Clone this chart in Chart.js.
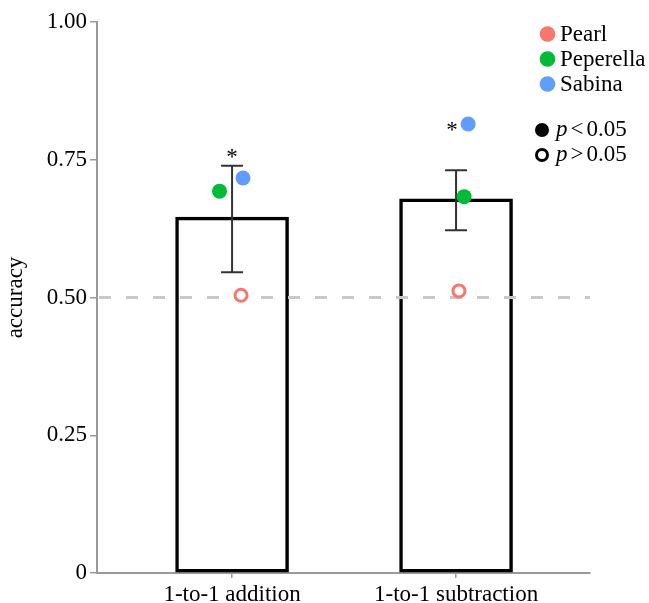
<!DOCTYPE html>
<html>
<head>
<meta charset="utf-8">
<script src="https://cdn.jsdelivr.net/npm/chart.js@4"></script>
<style>
  body { margin: 0; background: #fff; }
  #wrap { width: 649px; height: 603px; position: relative; }
</style>
</head>
<body>
<div id="wrap"><canvas id="chart"></canvas></div>
<script>
// Data
const categories = ['1-to-1 addition', '1-to-1 subtraction'];
const barMeans = [0.646, 0.679];
const errLow = [0.546, 0.622];
const errHigh = [0.739, 0.731];

const seriesNames = ['Pearl', 'Peperella', 'Sabina'];
const seriesColors = ['#f8766d', '#00ba38', '#619cff'];
const pearl = [0.504, 0.512];
const peperella = [0.693, 0.683];
const sabina = [0.717, 0.815];
// horizontal jitter of each monkey's point (in category units)
const pearlJitter = [0.040, 0.013];
const peperellaJitter = [-0.056, 0.036];
const sabinaJitter = [0.049, 0.054];
// significance: filled = p < 0.05, open = p > 0.05
const pearlSig = [false, false];
const peperellaSig = [true, true];
const sabinaSig = [true, true];

// asterisks (category x, accuracy y)
const starX = [0, 0.982];
const starY = [0.764, 0.813];

const yTicks = [0, 0.25, 0.5, 0.75, 1];
const chance = 0.5;

const serif = "'Liberation Serif', 'DejaVu Serif', serif";
const fontSize = 23;
Chart.defaults.font.family = serif;
Chart.defaults.color = '#000';

function pointsFor(values, jitter) {
    return values.map((v, i) => ({ x: i + jitter[i], y: v }));
}

function monkeyDataset(name, idx, values, jitter, sig) {
    const color = seriesColors[idx];
    return {
        type: 'scatter',
        label: name,
        data: pointsFor(values, jitter),
        order: 3 - idx,
        pointRadius: sig.map(s => s ? 7.5 : 6),
        pointBackgroundColor: sig.map(s => s ? color : '#fff'),
        pointBorderColor: color,
        pointBorderWidth: sig.map(s => s ? 0 : 3),
        pointHoverRadius: sig.map(s => s ? 7.5 : 6)
    };
}

// dashed chance line + error bars, drawn right after the bars
const overlayPlugin = {
    id: 'overlay',
    afterDatasetDraw(chart, args) {
        if (args.index !== 0) return;
        const ctx = chart.ctx;
        const x = chart.scales.x;
        const y = chart.scales.y;
        const area = chart.chartArea;

        ctx.save();
        ctx.strokeStyle = '#c8c8c8';
        ctx.lineWidth = 3;
        ctx.setLineDash([12, 15]);
        ctx.beginPath();
        ctx.moveTo(area.left + 2, y.getPixelForValue(chance));
        ctx.lineTo(area.right, y.getPixelForValue(chance));
        ctx.stroke();
        ctx.setLineDash([]);

        ctx.strokeStyle = '#333';
        ctx.lineWidth = 2;
        categories.forEach((c, i) => {
            const cx = x.getPixelForValue(i);
            const top = y.getPixelForValue(errHigh[i]);
            const bot = y.getPixelForValue(errLow[i]);
            ctx.beginPath();
            ctx.moveTo(cx, top);
            ctx.lineTo(cx, bot);
            ctx.moveTo(cx - 11, top);
            ctx.lineTo(cx + 11, top);
            ctx.moveTo(cx - 11, bot);
            ctx.lineTo(cx + 11, bot);
            ctx.stroke();
        });
        ctx.restore();
    },
    afterDraw(chart) {
        const ctx = chart.ctx;
        const x = chart.scales.x;
        const y = chart.scales.y;
        ctx.save();

        // asterisks
        ctx.fillStyle = '#000';
        ctx.font = fontSize + 'px ' + serif;
        ctx.textAlign = 'center';
        ctx.textBaseline = 'alphabetic';
        starX.forEach((sx, i) => {
            ctx.fillText('*', x.getPixelForValue(sx), y.getPixelForValue(starY[i]) + 12);
        });

        // legend
        ctx.textAlign = 'left';
        ctx.textBaseline = 'middle';
        seriesNames.forEach((name, i) => {
            const ly = 34 + i * 25;
            ctx.fillStyle = seriesColors[i];
            ctx.beginPath();
            ctx.arc(547.5, ly, 7.8, 0, Math.PI * 2);
            ctx.fill();
            ctx.fillStyle = '#000';
            ctx.fillText(name, 560, ly + 1);
        });

        const pRows = [['<', true], ['>', false]];
        pRows.forEach(([sign, filled], i) => {
            const ly = 130 + i * 25;
            ctx.beginPath();
            if (filled) {
                ctx.fillStyle = '#000';
                ctx.arc(542, ly, 7, 0, Math.PI * 2);
                ctx.fill();
            } else {
                ctx.strokeStyle = '#000';
                ctx.lineWidth = 3;
                ctx.arc(542, ly, 5.5, 0, Math.PI * 2);
                ctx.stroke();
            }
            ctx.fillStyle = '#000';
            let tx = 556;
            ctx.font = 'italic ' + fontSize + 'px ' + serif;
            ctx.fillText('p', tx, ly);
            tx += ctx.measureText('p').width + 3;
            ctx.font = fontSize + 'px ' + serif;
            ctx.fillText(sign, tx, ly);
            tx += ctx.measureText(sign).width + 3;
            ctx.fillText('0.05', tx, ly);
        });
        ctx.restore();
    }
};

new Chart(document.getElementById('chart'), {
    type: 'bar',
    data: {
        datasets: [
            {
                type: 'bar',
                label: 'mean',
                data: barMeans.map((v, i) => ({ x: i, y: v })),
                order: 10,
                backgroundColor: '#fff',
                borderColor: '#000',
                borderWidth: 3.5,
                borderSkipped: false,
                barThickness: 113
            },
            monkeyDataset(seriesNames[0], 0, pearl, pearlJitter, pearlSig),
            monkeyDataset(seriesNames[1], 1, peperella, peperellaJitter, peperellaSig),
            monkeyDataset(seriesNames[2], 2, sabina, sabinaJitter, sabinaSig)
        ]
    },
    options: {
        responsive: true,
        maintainAspectRatio: false,
        animation: false,
        layout: { padding: { top: 22, right: 59, bottom: 0, left: 0 } },
        plugins: {
            legend: { display: false },
            tooltip: { enabled: false }
        },
        scales: {
            x: {
                type: 'linear',
                offset: false,
                min: -0.603,
                max: 1.598,
                afterBuildTicks: (scale) => {
                    scale.ticks = categories.map((c, i) => ({ value: i }));
                },
                afterFit: (scale) => { scale.height = 30; },
                ticks: {
                    callback: (v) => categories[v],
                    font: { size: fontSize },
                    color: '#000',
                    padding: 3,
                    maxRotation: 0
                },
                grid: {
                    offset: false,
                    drawOnChartArea: false,
                    tickLength: 5,
                    color: '#999',
                    lineWidth: 1.5
                },
                border: { color: '#999', width: 2 }
            },
            y: {
                min: 0,
                max: 1,
                afterBuildTicks: (scale) => {
                    scale.ticks = yTicks.map(v => ({ value: v }));
                },
                afterFit: (scale) => { scale.width = 97; },
                ticks: {
                    callback: (v) => v === 0 ? '0' : v.toFixed(2),
                    font: { size: fontSize },
                    color: '#000',
                    padding: 3
                },
                grid: {
                    drawOnChartArea: false,
                    tickLength: 7,
                    color: '#999',
                    lineWidth: 1.5
                },
                border: { color: '#999', width: 2 },
                title: {
                    display: true,
                    text: 'accuracy',
                    font: { size: fontSize },
                    color: '#000',
                    padding: { top: 2, bottom: 0 }
                }
            }
        }
    },
    plugins: [overlayPlugin]
});
</script>
</body>
</html>
